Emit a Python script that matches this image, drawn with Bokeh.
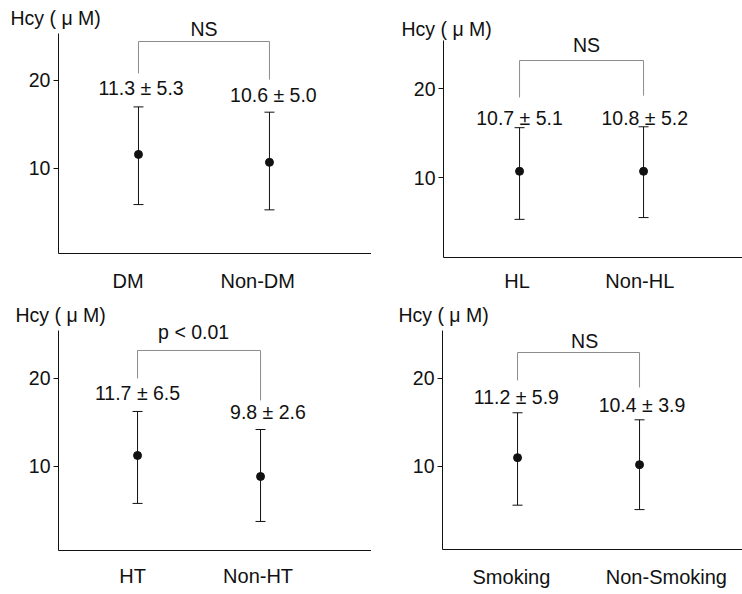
from bokeh.plotting import figure
from bokeh.layouts import column, row
from bokeh.models import Range1d, FixedTicker, Label
from bokeh.embed import file_html
from bokeh.resources import INLINE

# ---------------- data ----------------
y_ticks = [10, 20]
y_unit_label = "Hcy ( μ M)"

dm_groups = ["DM", "Non-DM"]
dm_mean = [11.6, 10.7]
dm_low = [5.9, 5.3]
dm_high = [17.0, 16.4]
dm_text = ["11.3 ± 5.3", "10.6 ± 5.0"]
dm_sig = "NS"

hl_groups = ["HL", "Non-HL"]
hl_mean = [10.7, 10.7]
hl_low = [5.3, 5.5]
hl_high = [15.6, 15.7]
hl_text = ["10.7 ± 5.1", "10.8 ± 5.2"]
hl_sig = "NS"

ht_groups = ["HT", "Non-HT"]
ht_mean = [11.25, 8.86]
ht_low = [5.8, 3.75]
ht_high = [16.25, 14.2]
ht_text = ["11.7 ± 6.5", "9.8 ± 2.6"]
ht_sig = "p < 0.01"

sm_groups = ["Smoking", "Non-Smoking"]
sm_mean = [11.0, 10.2]
sm_low = [5.6, 5.1]
sm_high = [16.1, 15.3]
sm_text = ["11.2 ± 5.9", "10.4 ± 3.9"]
sm_sig = "NS"

# ---------------- layout / style ----------------
FONT = "Liberation Sans"
FS = "19.5px"
FS_CAT = "20px"
BRACKET = "#8c8c8c"
INK = "#111111"
PW, PH = 371, 297

# xr/yr: visible data window of the whole panel; ax: x of the y axis,
# ay: y bounds of the y axis (also the level of the x axis)
layouts = [
    dict(xr=(-0.0534, 2.779), yr=(-4.66, 29.09), ax=0.389, ay=(0.34, 25.34),
         title=(0.023, 27.05), sig=(1.50, 25.8), bracket=(20.8, 24.43, 20.1),
         vals=[(1.02, 19.1), (2.03, 18.3)], cats=[(0.92, -2.84), (1.91, -2.84)]),
    dict(xr=(-0.194, 2.798), yr=(-3.48, 29.89), ax=0.387, ay=(1.01, 25.39),
         title=(0.048, 26.74), sig=(1.54, 24.94), bracket=(19.0, 23.15, 19.2),
         vals=[(1.0, 16.74), (2.01, 16.74)], cats=[(0.98, -1.57), (1.97, -1.57)]),
    dict(xr=(-0.114, 2.902), yr=(-4.55, 29.2), ax=0.358, ay=(0.45, 25.45),
         title=(0.008, 27.16), sig=(1.456, 25.23), bracket=(20.0, 23.18, 17.5),
         vals=[(1.0, 18.4), (2.06, 16.14)], cats=[(0.96, -2.5), (1.98, -2.5)]),
    dict(xr=(-0.197, 2.844), yr=(-4.55, 29.2), ax=0.385, ay=(0.57, 25.45),
         title=(0.024, 27.16), sig=(1.55, 24.3), bracket=(19.77, 22.95, 18.98),
         vals=[(0.99, 17.84), (2.02, 16.93)], cats=[(0.95, -2.6), (2.22, -2.6)]),
]


def make_panel(groups, mean, low, high, texts, sig, L):
    p = figure(width=PW, height=PH, output_backend="svg", toolbar_location=None,
               x_range=Range1d(*L["xr"]), y_range=Range1d(*L["yr"]),
               min_border=0, min_border_left=0, min_border_right=0,
               min_border_top=0, min_border_bottom=0)
    p.outline_line_color = None
    p.xgrid.visible = False
    p.ygrid.visible = False
    p.background_fill_color = "white"
    p.border_fill_color = "white"

    yax = p.yaxis[0]
    yax.fixed_location = L["ax"]
    yax.bounds = L["ay"]
    yax.ticker = FixedTicker(ticks=y_ticks)
    yax.minor_tick_line_color = None
    yax.major_tick_in = 0
    yax.major_tick_out = 5
    yax.major_label_standoff = 3
    yax.major_label_text_font = FONT
    yax.major_label_text_font_size = FS
    yax.major_label_text_color = INK
    yax.axis_line_color = INK
    yax.major_tick_line_color = INK

    xax = p.xaxis[0]
    xax.fixed_location = L["ay"][0]
    xax.bounds = (L["ax"], L["xr"][1])
    xax.ticker = FixedTicker(ticks=[])
    xax.minor_tick_line_color = None
    xax.major_tick_line_color = None
    xax.axis_line_color = INK

    xs = [i + 1 for i in range(len(groups))]

    # error bars
    p.segment(x0=xs, y0=low, x1=xs, y1=high, line_color=INK, line_width=1)
    p.scatter(x=xs, y=high, marker="dash", size=10, line_color=INK, line_width=1)
    p.scatter(x=xs, y=low, marker="dash", size=10, line_color=INK, line_width=1)
    p.scatter(x=xs, y=mean, marker="circle", size=8, fill_color=INK, line_color=INK)

    # significance bracket
    b0, btop, b1 = L["bracket"]
    p.line(x=[xs[0], xs[0], xs[1], xs[1]], y=[b0, btop, btop, b1],
           line_color=BRACKET, line_width=1)

    def lab(x, y, t, align="center", size=FS):
        p.add_layout(Label(x=x, y=y, text=t, text_font=FONT, text_font_size=size,
                           text_color=INK, text_align=align, text_baseline="middle"))

    lab(L["title"][0], L["title"][1], y_unit_label, align="left")
    lab(L["sig"][0], L["sig"][1], sig)
    for (vx, vy), t in zip(L["vals"], texts):
        lab(vx, vy, t)
    for (cx, cy), g in zip(L["cats"], groups):
        lab(cx, cy, g, size=FS_CAT)
    return p


p1 = make_panel(dm_groups, dm_mean, dm_low, dm_high, dm_text, dm_sig, layouts[0])
p2 = make_panel(hl_groups, hl_mean, hl_low, hl_high, hl_text, hl_sig, layouts[1])
p3 = make_panel(ht_groups, ht_mean, ht_low, ht_high, ht_text, ht_sig, layouts[2])
p4 = make_panel(sm_groups, sm_mean, sm_low, sm_high, sm_text, sm_sig, layouts[3])

page = column(row(p1, p2), row(p3, p4))
open("out.html", "w").write(file_html(page, INLINE))
